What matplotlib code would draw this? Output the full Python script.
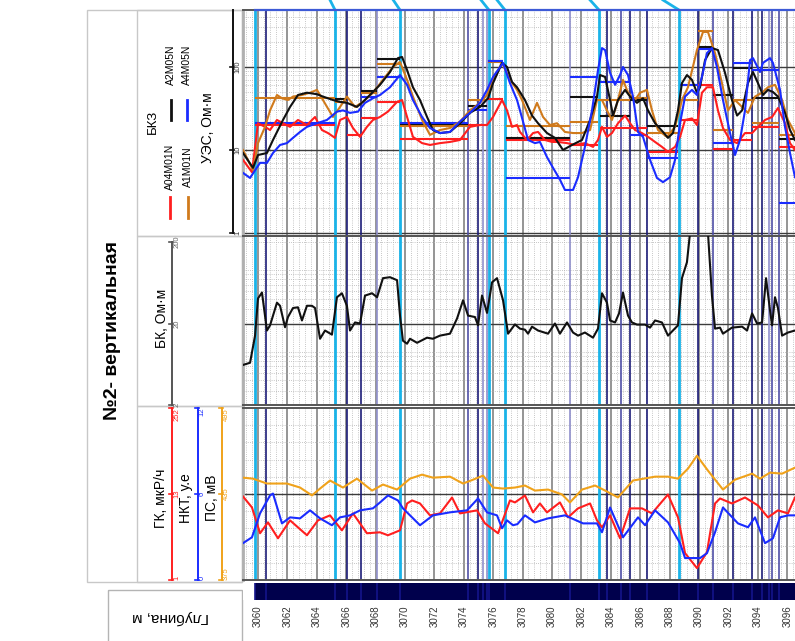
import numpy as np
import matplotlib
matplotlib.use("Agg")
import matplotlib.pyplot as plt
from matplotlib import transforms
from matplotlib.patches import Rectangle
from matplotlib.ticker import FixedLocator, LogLocator, MultipleLocator, NullFormatter

plt.rcParams["font.family"] = ["Liberation Sans", "DejaVu Sans"]

# ---------------- data (depth, value) ----------------
# БКЗ, apparent resistivity, Ohm*m
bkz_a04m01n = [(3058.98, 7.6), (3059.59, 5.4), (3060.00, 21), (3060.48, 19), (3060.82, 17.4), (3061.29, 23),
               (3061.70, 21), (3062.18, 19), (3062.72, 23), (3063.33, 20), (3063.88, 25), (3064.35, 17.4),
               (3064.76, 16), (3065.24, 14), (3065.58, 23), (3066.05, 25), (3066.46, 18.4), (3066.94, 14.4),
               (3067.41, 19), (3067.82, 23), (3068.30, 25), (3068.84, 29), (3069.46, 38), (3069.80, 40),
               (3070.14, 25), (3070.54, 14.4), (3071.16, 12.1), (3071.70, 11.5), (3072.38, 12.1), (3073.06, 12.5),
               (3073.74, 13.2), (3074.42, 19), (3075.10, 20), (3075.58, 20), (3075.99, 25), (3076.60, 40),
               (3076.94, 30), (3077.28, 19), (3077.62, 20), (3077.82, 16.5), (3078.30, 13.2), (3078.71, 16),
               (3079.05, 16.5), (3079.52, 13.2), (3080.00, 12.5), (3080.41, 12.5), (3081.02, 12.1), (3081.56, 11.5),
               (3082.24, 12.1), (3082.79, 10.9), (3083.13, 13.2), (3083.40, 19), (3083.74, 14.4), (3084.08, 16),
               (3084.49, 21), (3084.97, 26), (3085.31, 21), (3085.65, 17.4), (3086.12, 16), (3086.53, 14.4),
               (3087.01, 12.5), (3087.48, 10.9), (3087.89, 9.5), (3088.37, 10.9), (3088.71, 14.4), (3089.05, 23),
               (3089.52, 24), (3089.86, 20), (3090.20, 49), (3090.54, 57), (3090.95, 57), (3091.29, 30),
               (3091.63, 18.4), (3092.11, 13.2), (3092.59, 12.1), (3093.13, 16), (3093.61, 16), (3094.01, 19),
               (3094.49, 23), (3094.97, 25), (3095.37, 32), (3095.85, 21), (3096.19, 12.1), (3096.53, 10)]
bkz_a1m01n = [(3058.98, 10), (3059.66, 5.7), (3060.00, 12.1), (3060.48, 19), (3060.82, 30), (3061.29, 46),
              (3061.63, 42), (3062.04, 40), (3062.38, 44), (3062.99, 46), (3063.54, 49), (3064.01, 53),
              (3064.42, 40), (3065.10, 25), (3065.58, 33), (3066.05, 44), (3066.60, 33), (3067.14, 38),
              (3067.82, 49), (3068.50, 70), (3069.18, 100), (3069.66, 115), (3070.14, 70), (3070.54, 44),
              (3071.16, 23), (3071.70, 15.2), (3072.38, 17.4), (3073.06, 18.4), (3073.74, 22), (3074.42, 30),
              (3075.10, 37), (3075.58, 46), (3075.99, 70), (3076.60, 112), (3077.14, 70), (3077.62, 53),
              (3077.96, 40), (3078.50, 23), (3078.98, 37), (3079.39, 25), (3079.86, 20), (3080.34, 21),
              (3080.88, 16.5), (3081.43, 16), (3082.04, 16), (3082.59, 17.4), (3083.06, 40), (3083.40, 40),
              (3083.74, 30), (3084.08, 23), (3084.49, 40), (3084.83, 70), (3085.17, 49), (3085.65, 40),
              (3085.99, 49), (3086.46, 53), (3086.80, 30), (3087.21, 17.4), (3087.82, 14.4), (3088.37, 19),
              (3088.84, 40), (3089.25, 57), (3089.86, 160), (3090.27, 264), (3090.61, 264), (3091.09, 147),
              (3091.56, 64), (3091.97, 30), (3092.45, 40), (3092.93, 33), (3093.33, 28), (3093.81, 44),
              (3094.29, 49), (3094.69, 57), (3095.17, 61), (3095.65, 40), (3096.05, 23), (3096.53, 16)]
bkz_a2m05n = [(3058.98, 9.2), (3059.66, 6.1), (3060.00, 8.7), (3060.61, 9.2), (3061.02, 13.2), (3061.70, 23),
              (3062.18, 33), (3062.72, 46), (3063.33, 49), (3064.01, 47), (3064.42, 44), (3065.10, 40),
              (3065.58, 38), (3066.05, 37), (3066.73, 33), (3067.14, 38), (3067.82, 50), (3068.30, 61),
              (3068.98, 87), (3069.52, 128), (3069.80, 132), (3070.14, 92), (3070.54, 57), (3071.02, 40),
              (3071.50, 25), (3071.90, 17.4), (3072.38, 16), (3073.06, 16.5), (3073.74, 21), (3074.42, 28),
              (3075.10, 33), (3075.65, 42), (3075.99, 64), (3076.60, 112), (3076.94, 100), (3077.28, 66),
              (3077.62, 57), (3078.16, 40), (3078.64, 26), (3079.05, 21), (3079.66, 16), (3080.20, 14),
              (3080.75, 10), (3081.36, 11.5), (3082.04, 13.2), (3082.59, 23), (3083.06, 44), (3083.27, 80),
              (3083.61, 76), (3083.95, 40), (3084.15, 26), (3084.49, 40), (3084.97, 53), (3085.31, 44),
              (3085.78, 37), (3086.19, 42), (3086.53, 30), (3087.01, 21), (3087.55, 16.5), (3087.89, 14),
              (3088.23, 16), (3088.57, 30), (3088.84, 64), (3089.18, 80), (3089.52, 70), (3089.86, 49),
              (3090.07, 57), (3090.41, 121), (3090.88, 169), (3091.29, 160), (3091.77, 85), (3092.24, 40),
              (3092.59, 26), (3092.93, 30), (3093.33, 64), (3093.67, 87), (3094.01, 64), (3094.35, 46),
              (3094.69, 53), (3095.03, 50), (3095.37, 44), (3095.85, 28), (3096.19, 17.4), (3096.53, 13.2)]
bkz_a4m05n = [(3058.98, 5.3), (3059.46, 4.6), (3059.80, 5.7), (3060.14, 7.0), (3060.61, 7.0), (3061.02, 9.2),
              (3061.50, 11.5), (3061.97, 12.1), (3062.38, 14), (3062.86, 16.5), (3063.33, 19), (3064.01, 21),
              (3064.69, 23), (3065.37, 29), (3065.78, 30), (3066.26, 28), (3066.80, 29), (3067.28, 37),
              (3067.82, 42), (3068.30, 46), (3068.98, 57), (3069.66, 80), (3070.14, 61), (3070.54, 40),
              (3071.16, 25), (3071.70, 18.4), (3072.38, 16), (3073.06, 16.5), (3073.74, 22), (3074.42, 28),
              (3075.10, 37), (3075.58, 53), (3075.99, 76), (3076.67, 112), (3077.14, 64), (3077.62, 40),
              (3077.82, 30), (3078.37, 13.2), (3078.84, 12.1), (3079.18, 12.5), (3079.66, 8.2), (3080.07, 6.1),
              (3080.54, 4.4), (3080.88, 3.3), (3081.43, 3.3), (3081.77, 4.7), (3082.24, 10.9), (3082.72, 30),
              (3083.13, 92), (3083.40, 169), (3083.61, 160), (3083.95, 85), (3084.29, 61), (3084.63, 80),
              (3084.83, 100), (3085.17, 80), (3085.51, 44), (3085.85, 16.5), (3086.19, 14.4), (3086.67, 7.6),
              (3087.14, 4.6), (3087.55, 4.1), (3088.03, 4.7), (3088.37, 7.6), (3088.71, 21), (3089.05, 44),
              (3089.52, 53), (3089.86, 46), (3090.20, 76), (3090.54, 147), (3090.88, 169), (3091.22, 100),
              (3091.63, 40), (3092.11, 16), (3092.45, 8.7), (3092.79, 13.2), (3093.13, 30), (3093.47, 121),
              (3093.67, 128), (3094.15, 87), (3094.35, 112), (3094.83, 128), (3095.03, 112), (3095.51, 53),
              (3095.85, 19), (3096.19, 9.2), (3096.53, 4.7)]

# interpreted layer resistivities (nan = no value for that probe)
layer_top = [3059.80, 3065.24, 3066.03, 3066.99, 3068.07, 3069.66, 3074.27, 3075.65, 3076.90, 3081.22,
             3083.27, 3085.31, 3086.44, 3088.71, 3089.91, 3090.97, 3092.33, 3093.63, 3095.46]
layer_bot = [3065.24, 3066.03, 3066.99, 3068.07, 3069.66, 3074.27, 3075.56, 3076.70, 3081.22, 3083.13,
             3085.31, 3086.44, 3088.57, 3089.91, 3090.97, 3092.33, 3093.63, 3095.46, 3096.53]
nan = np.nan
layer_a04m01n = [20, nan, 15.2, 24, 38, 13.6, 20, 41, 13.2, 11.5, 18.4, 18.4, 9.5, 23, 61, 10.3, 13.2, 19, 10.9]
layer_a1m01n = [42, 38, nan, 49, 108, 19.5, 40, 115, 19.5, 22, 40, 42, 16, 40, 271, 17.4, 40, 21, 15.2]
layer_a2m05n = [nan, 41, nan, 51, 125, 20.5, 34, 117, 14, 44, 26, 40, 19.5, 61, 175, 46, 97, 42, 13.6]
layer_a4m05n = [21, nan, nan, 44, 76, 21, 30, 117, 4.6, 76, 66, 15.2, 8.0, 61, 165, 12.1, 112, 92, 2.3]

# БК, Ohm*m (values above the scale run off the track)
bk = [(3058.98, 6.2), (3059.46, 6.6), (3059.80, 14.2), (3060.00, 40.6), (3060.27, 48), (3060.61, 16.4),
      (3060.82, 19), (3061.29, 36), (3061.50, 33), (3061.84, 18), (3062.04, 24), (3062.38, 31),
      (3062.72, 31.6), (3062.99, 21.8), (3063.33, 33), (3063.67, 33), (3063.88, 31), (3064.22, 13),
      (3064.56, 16.4), (3065.03, 14.6), (3065.37, 42), (3065.71, 47), (3066.05, 33), (3066.26, 16.4),
      (3066.60, 20.6), (3066.94, 20), (3067.28, 44), (3067.76, 47), (3068.10, 42), (3068.50, 72),
      (3068.98, 74), (3069.46, 68), (3069.66, 25), (3069.86, 12.3), (3070.14, 11.3), (3070.34, 13),
      (3070.82, 11.6), (3071.50, 13.4), (3071.90, 13), (3072.38, 14.2), (3073.06, 15), (3073.54, 23),
      (3073.95, 38.5), (3074.29, 25), (3074.76, 24), (3074.97, 19), (3075.24, 44), (3075.58, 27),
      (3075.92, 64), (3076.26, 72), (3076.67, 38.5), (3077.01, 15), (3077.48, 19.5), (3077.82, 17.3),
      (3078.16, 16.8), (3078.37, 15), (3078.64, 18.3), (3079.05, 16.4), (3079.73, 15), (3080.20, 20),
      (3080.54, 15), (3081.02, 20.6), (3081.43, 15.5), (3081.77, 14.2), (3082.24, 15.5), (3082.79, 13.4),
      (3083.13, 17.3), (3083.40, 47), (3083.74, 36), (3083.95, 21.8), (3084.29, 20.6), (3084.56, 26.6),
      (3084.83, 48), (3085.17, 25), (3085.44, 20.6), (3085.78, 19.4), (3086.33, 19.4), (3086.67, 17.8),
      (3087.01, 21.8), (3087.48, 20.6), (3087.89, 14.2), (3088.57, 19), (3088.84, 72), (3089.18, 113),
      (3089.39, 260), (3089.86, 900), (3090.41, 900), (3090.61, 260), (3090.88, 44), (3091.09, 17.3),
      (3091.43, 17.8), (3091.63, 15), (3092.24, 17.8), (3092.93, 18.3), (3093.27, 16.4), (3093.61, 26.6),
      (3093.95, 20), (3094.29, 20.6), (3094.56, 72), (3094.83, 29), (3094.97, 19), (3095.17, 42),
      (3095.37, 31), (3095.65, 14.2), (3096.05, 15.5), (3096.53, 16.4)]

# ГК, мкР/ч
gk = [(3058.98, 122.9), (3059.59, 106.9), (3060.14, 69.2), (3060.68, 85.1), (3061.36, 61.9), (3062.18, 88),
      (3063.33, 66.3), (3064.08, 88), (3064.90, 95.3), (3065.71, 73.5), (3066.46, 98.2), (3067.41, 69.2),
      (3068.30, 70.6), (3068.84, 66.3), (3069.66, 73.5), (3070.14, 112.7), (3070.48, 117.1), (3071.02, 112.7),
      (3071.70, 95.3), (3072.38, 98.2), (3073.20, 121.4), (3073.74, 98.2), (3074.90, 102.6), (3075.44, 83.7),
      (3076.33, 69.2), (3077.14, 117.1), (3077.48, 114.2), (3078.16, 124.3), (3078.71, 99.7), (3079.18, 112.7),
      (3079.66, 99.7), (3080.54, 114.2), (3081.09, 92.4), (3081.77, 105.5), (3082.59, 112.7), (3083.06, 88),
      (3083.40, 77.9), (3083.95, 95.3), (3084.63, 61.9), (3085.31, 105.5), (3086.12, 105.5), (3086.80, 98.2),
      (3087.89, 125.8), (3088.57, 92.4), (3089.05, 40.2), (3089.86, 18.4), (3090.54, 41.6), (3091.09, 112.7),
      (3091.43, 120), (3092.24, 112.7), (3093.13, 121.4), (3094.01, 109.8), (3094.69, 92.4), (3095.37, 102.6),
      (3096.05, 98.2), (3096.53, 121.4)]

# НКТ, у.е.
nkt = [(3058.98, 2.57), (3059.59, 2.98), (3060.14, 4.65), (3060.82, 5.9), (3061.02, 6.03), (3061.63, 3.95),
       (3062.18, 4.37), (3062.86, 4.3), (3063.54, 4.86), (3064.22, 4.3), (3065.03, 3.82), (3065.58, 4.37),
       (3066.26, 4.51), (3066.94, 4.86), (3067.82, 5.0), (3068.30, 5.41), (3068.84, 5.9), (3069.52, 5.55),
       (3069.86, 5.0), (3071.02, 3.82), (3071.90, 4.51), (3073.06, 4.72), (3074.22, 4.86), (3074.97, 5.69),
       (3075.58, 4.72), (3076.26, 4.51), (3076.60, 3.61), (3076.94, 4.16), (3077.35, 3.82), (3077.65, 3.9),
       (3078.16, 4.51), (3078.84, 4.02), (3079.73, 4.3), (3080.88, 4.51), (3082.11, 3.95), (3083.06, 3.95),
       (3083.40, 3.33), (3083.95, 5.06), (3084.42, 3.95), (3084.83, 2.98), (3085.85, 4.37), (3086.33, 3.82),
       (3087.01, 4.86), (3087.89, 4.02), (3088.71, 2.57), (3089.05, 1.53), (3090.07, 1.53), (3090.54, 1.87),
       (3091.09, 3.33), (3091.63, 5.06), (3092.65, 3.95), (3093.33, 3.68), (3093.81, 4.37), (3094.49, 2.57),
       (3095.03, 2.91), (3095.51, 4.37), (3096.05, 4.51), (3096.53, 4.51)]

# ПС, мВ
ps = [(3058.98, 446.4), (3059.66, 445.7), (3060.61, 442.3), (3061.97, 442.3), (3062.86, 439.5), (3063.67, 434),
      (3064.22, 438.8), (3064.90, 444.4), (3065.78, 439.5), (3066.73, 445.7), (3067.76, 437.4), (3068.50, 441.6),
      (3069.46, 438.1), (3070.34, 445.7), (3071.16, 448.5), (3071.90, 446.4), (3073.06, 447.1), (3073.95, 442.3),
      (3074.63, 445), (3075.31, 447.8), (3075.99, 439.5), (3076.67, 438.8), (3077.48, 439.5), (3078.16, 440.9),
      (3078.84, 437.4), (3079.73, 438.1), (3080.68, 434.7), (3081.22, 429.1), (3082.04, 438.1), (3082.93, 440.9),
      (3083.61, 437.4), (3084.49, 432.6), (3085.51, 444.4), (3087.01, 447.1), (3087.89, 447.1), (3088.57, 445.7),
      (3089.25, 452.7), (3089.86, 461.7), (3090.61, 451.3), (3091.63, 438.1), (3092.45, 445), (3093.61, 449.2),
      (3094.15, 445.7), (3094.83, 449.9), (3095.65, 449.2), (3096.53, 453.4)]

# correlation ties and layer boundaries, m
tie_depths = [3059.80, 3065.24, 3069.66, 3075.71, 3076.80, 3083.20, 3088.64]
tie_shift = [0.0, 0.34, 0.46, 0.54, 0.54, 0.61, 1.09]
navy_lines = [3060.54, 3066.03, 3066.99, 3074.99, 3083.72, 3085.31, 3086.44, 3089.91, 3092.33, 3093.63, 3094.31]
purple_lines = [3074.27, 3084.69, 3090.97, 3094.99, 3095.46]
lilac_lines = [3068.07, 3075.33, 3075.56, 3081.22, 3094.76]
depth_ticks = list(range(3060, 3097, 2))

# ---------------- layout ----------------
W, H = 795, 641
X0 = 243
D_MIN, D_MAX = 3058.98, 3096.53

RED = "#ff1f1f"
ORANGE = "#d07a1c"
BLACK = "#111111"
BLUE = "#1a2cff"
PS_COLOR = "#f0a21a"
CYAN = "#1ab3e8"
NAVY = "#1c1c78"
PURPLE = "#4f4fa6"
LILAC = "#9090cc"
DOT = (0, (1, 1.6))

fig = plt.figure(figsize=(W / 100, H / 100), dpi=100)
deco = fig.add_axes([0, 0, 1, 1], zorder=0)
deco.set_xlim(0, W)
deco.set_ylim(H, 0)
deco.axis("off")


def track(top, bottom):
    ax = fig.add_axes([X0 / W, 1 - bottom / H, 1 - X0 / W, (bottom - top) / H], zorder=2)
    ax.set_xlim(D_MIN, D_MAX)
    ax.xaxis.set_major_locator(MultipleLocator(2))
    ax.xaxis.set_minor_locator(MultipleLocator(0.4))
    ax.grid(which="major", axis="x", color="#8c8c8c", lw=1.3)
    ax.grid(which="minor", axis="x", color="#b4b4b4", lw=0.6, ls=DOT)
    ax.tick_params(which="both", length=0, labelbottom=False, labelleft=False)
    ax.set_axisbelow(True)
    for side in ("top", "bottom"):
        ax.spines[side].set_color("#555555")
        ax.spines[side].set_linewidth(1.4)
    ax.spines["left"].set_color("#b0b0b0")
    ax.spines["left"].set_linewidth(2)
    ax.spines["right"].set_visible(False)
    for d in lilac_lines:
        ax.axvline(d, color=LILAC, lw=1.2, zorder=1.5)
    for d in purple_lines:
        ax.axvline(d, color=PURPLE, lw=1.2, zorder=1.5)
    for d in navy_lines:
        ax.axvline(d, color=NAVY, lw=1.2, zorder=1.6)
    for d in tie_depths:
        ax.axvline(d, color=CYAN, lw=2.0, zorder=1.7)
    return ax


def xy(pairs):
    a = np.array(pairs, dtype=float)
    return a[:, 0], a[:, 1]


# --- track 1: БКЗ ---
ax1 = track(10, 236)
ax1.set_yscale("log")
ax1.set_ylim(0.92, 486)
ax1.yaxis.set_major_locator(FixedLocator([1, 10, 100]))
ax1.yaxis.set_minor_locator(LogLocator(base=10, subs=np.arange(2, 10)))
ax1.yaxis.set_minor_formatter(NullFormatter())
ax1.grid(which="major", axis="y", color="#3c3c3c", lw=1.0)
ax1.grid(which="minor", axis="y", color="#b4b4b4", lw=0.6, ls=DOT)
ax1.tick_params(which="both", length=0, labelleft=False)

tops = np.array(layer_top)
bots = np.array(layer_bot)
for vals, col in ((layer_a04m01n, RED), (layer_a1m01n, ORANGE),
                  (layer_a2m05n, BLACK), (layer_a4m05n, BLUE)):
    v = np.array(vals, dtype=float)
    ok = ~np.isnan(v)
    ax1.hlines(v[ok], tops[ok], bots[ok], colors=col, lw=1.5, zorder=3)
for pairs, col in ((bkz_a04m01n, RED), (bkz_a1m01n, ORANGE),
                   (bkz_a2m05n, BLACK), (bkz_a4m05n, BLUE)):
    d, v = xy(pairs)
    ax1.plot(d, v, color=col, lw=1.5, zorder=4)

# ties run up out of the track towards the neighbouring well
up = transforms.blended_transform_factory(ax1.transData, fig.transFigure)
for d, s in zip(tie_depths, tie_shift):
    if s > 0:
        ax1.plot([d, d - s], [1 - 10 / H, 1.0], color=CYAN, lw=2.0, transform=up, clip_on=False, zorder=5)
top_frame = transforms.blended_transform_factory(ax1.transData, ax1.transAxes)
ax1.plot([tie_depths[0], D_MAX], [1, 1], color="#3d5ad6", lw=1.6, transform=top_frame, clip_on=False, zorder=5)

# --- track 2: БК ---
ax2 = track(236, 405)
ax2.set_yscale("log")
ax2.set_ylim(2, 237)
ax2.yaxis.set_major_locator(FixedLocator([20]))
ax2.yaxis.set_minor_locator(LogLocator(base=10, subs=np.arange(2, 10)))
ax2.yaxis.set_minor_formatter(NullFormatter())
ax2.grid(which="major", axis="y", color="#3c3c3c", lw=1.0)
ax2.grid(which="minor", axis="y", color="#b4b4b4", lw=0.6, ls=DOT)
ax2.tick_params(which="both", length=0, labelleft=False)
d, v = xy(bk)
ax2.plot(d, v, color=BLACK, lw=1.5, zorder=4)

# --- track 3: ГК, НКТ, ПС ---
ax3 = track(408, 580)
ax3.set_ylim(1, 252)
ax3.yaxis.set_major_locator(FixedLocator([126.5]))
ax3.yaxis.set_minor_locator(FixedLocator(np.linspace(1, 252, 11)[1:-1]))
ax3.grid(which="major", axis="y", color="#3c3c3c", lw=1.0)
ax3.grid(which="minor", axis="y", color="#b4b4b4", lw=0.6, ls=DOT)
ax3.tick_params(which="both", length=0, labelleft=False, labelright=False)
ax3n = ax3.twinx()
ax3n.set_ylim(0, 12)
ax3p = ax3.twinx()
ax3p.set_ylim(375, 495)
for tw in (ax3n, ax3p):
    tw.set_zorder(3)
    tw.patch.set_visible(False)
    tw.axis("off")
d, v = xy(ps)
ax3p.plot(d, v, color=PS_COLOR, lw=1.5)
d, v = xy(nkt)
ax3n.plot(d, v, color=BLUE, lw=1.5)
d, v = xy(gk)
ax3.plot(d, v, color=RED, lw=1.5, zorder=4)

# --- depth band ---
axb = fig.add_axes([X0 / W, 1 - 600 / H, 1 - X0 / W, 17 / H], zorder=2)
axb.set_xlim(D_MIN, D_MAX)
axb.set_ylim(0, 1)
axb.add_patch(Rectangle((tie_depths[0], 0), D_MAX - tie_depths[0], 1, color="#00004c", lw=0))
for d in navy_lines + purple_lines + lilac_lines + tie_depths:
    axb.axvline(d, color="#14148a", lw=1.2)
axb.set_xticks(depth_ticks)
axb.set_xticklabels([str(t) for t in depth_ticks], rotation=90, fontsize=7, color="#333333")
axb.set_yticks([])
axb.tick_params(axis="x", length=0, pad=4)
for sp in axb.spines.values():
    sp.set_visible(False)

# ---------------- header ----------------
box = dict(fill=False, ec="#c8c8c8", lw=1)
deco.add_patch(Rectangle((87, 10), 155, 572, **box))
deco.add_patch(Rectangle((137, 10), 105, 226, **box))
deco.add_patch(Rectangle((137, 236), 105, 170, **box))
deco.add_patch(Rectangle((137, 406), 105, 176, **box))
deco.add_patch(Rectangle((108, 590), 134, 60, fill=False, ec="#b4b4b4", lw=1))

deco.text(112, 330, "№2- вертикальная", rotation=90, fontsize=14, fontweight="bold",
          ha="center", va="center")
deco.text(171, 617, "Глубина, м", rotation=180, fontsize=11, ha="center", va="center")

# БКЗ header
deco.text(153, 122, "БКЗ", rotation=90, fontsize=9.5, ha="center", va="center")
legend_items = [("A04M01N", RED, 170, 197, 218, 167), ("A1M01N", ORANGE, 188, 197, 218, 167),
                ("A2M05N", BLACK, 171, 100, 120, 65), ("A4M05N", BLUE, 187, 100, 120, 65)]
for name, col, lx, y0, y1, ty in legend_items:
    deco.plot([lx, lx], [y0, y1], color=col, lw=2)
    deco.text(lx, ty, name, rotation=90, fontsize=7.5, ha="center", va="center")
deco.text(208, 128, "УЭС, Ом·м", rotation=90, fontsize=10, ha="center", va="center")

deco.text(162, 318, "БК, Ом·м", rotation=90, fontsize=10, ha="center", va="center")
deco.text(161, 498, "ГК, мкР/ч", rotation=90, fontsize=10, ha="center", va="center")
deco.text(186, 498, "НКТ, у.е", rotation=90, fontsize=10, ha="center", va="center")
deco.text(212, 498, "ПС, мВ", rotation=90, fontsize=10, ha="center", va="center")


def scale(ax, x, lo, hi, ticks, labels, col, line_col=None, inside=False, dx=5):
    tr = transforms.blended_transform_factory(deco.transData, ax.transData)
    deco.plot([x, x], [lo, hi], color=line_col or col, lw=1.4, transform=tr)
    n = len(ticks)
    for i, (t, lab) in enumerate(zip(ticks, labels)):
        deco.plot([x - 3, x + 1], [t, t], color=line_col or col, lw=1.2, transform=tr)
        va = "center"
        if inside and i == 0:
            va = "bottom"
        elif inside and i == n - 1:
            va = "top"
        deco.text(x + dx, t, lab, rotation=90, fontsize=5.5, color=col,
                  ha="center", va=va, transform=tr)


scale(ax1, 233, 1, 486, [1, 10, 100], ["1", "10", "100"], "#333333", BLACK)
scale(ax2, 172, 2, 200, [2, 20, 200], ["2", "20", "200"], "#666666", "#555555")
scale(ax3, 172, 1, 252, [1, 126.5, 252], ["1", "13", "252"], RED, inside=True)
scale(ax3n, 198, 0, 12, [0, 6, 12], ["0", "6", "12"], BLUE, inside=True, dx=4)
scale(ax3p, 222, 375, 495, [375, 435, 495], ["375", "435", "495"], PS_COLOR, inside=True, dx=4)

fig.savefig("out.png", dpi=100)
plt.close(fig)
